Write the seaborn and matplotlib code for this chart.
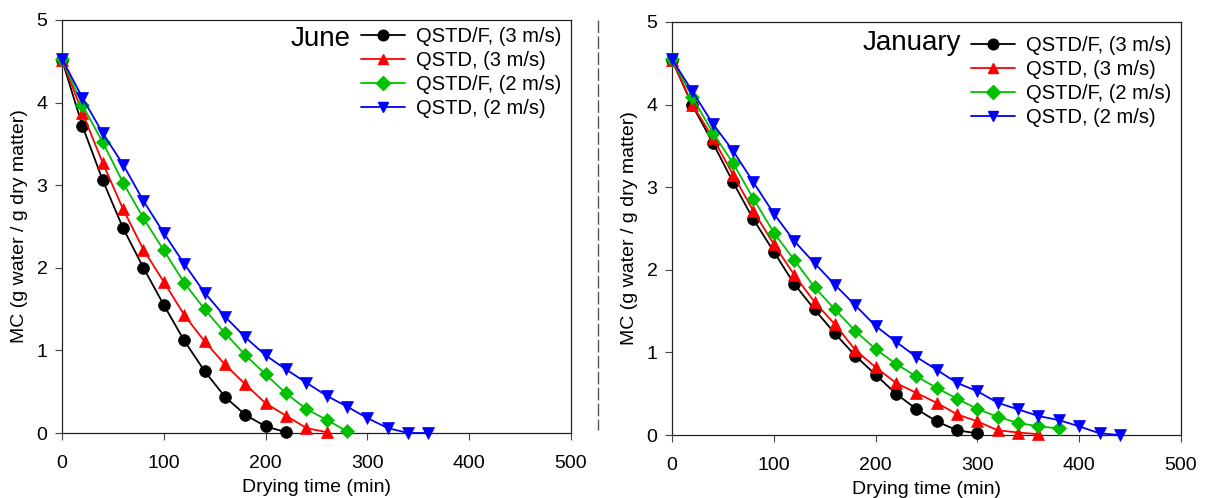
import numpy as np
import pandas as pd
import matplotlib
matplotlib.use("Agg")
import matplotlib.pyplot as plt
import seaborn as sns
from matplotlib.lines import Line2D

# ---- data ----
labels = ["QSTD/F, (3 m/s)", "QSTD, (3 m/s)", "QSTD/F, (2 m/s)", "QSTD, (2 m/s)"]
panel_titles = ["June", "January"]

june_t_qstdf3 = [0, 20, 40, 60, 80, 100, 120, 140, 160, 180, 200, 220]
june_mc_qstdf3 = [4.52, 3.72, 3.06, 2.48, 2.00, 1.55, 1.12, 0.75, 0.44, 0.22, 0.08, 0.01]
june_t_qstd3 = [0, 20, 40, 60, 80, 100, 120, 140, 160, 180, 200, 220, 240, 260]
june_mc_qstd3 = [4.52, 3.88, 3.27, 2.71, 2.22, 1.83, 1.43, 1.11, 0.83, 0.59, 0.36, 0.21, 0.06, 0.01]
june_t_qstdf2 = [0, 20, 40, 60, 80, 100, 120, 140, 160, 180, 200, 220, 240, 260, 280]
june_mc_qstdf2 = [4.53, 3.97, 3.52, 3.03, 2.60, 2.21, 1.82, 1.50, 1.21, 0.945, 0.71, 0.48, 0.29, 0.16, 0.02]
june_t_qstd2 = [0, 20, 40, 60, 80, 100, 120, 140, 160, 180, 200, 220, 240, 260, 280, 300, 320, 340, 360]
june_mc_qstd2 = [4.53, 4.06, 3.63, 3.25, 2.81, 2.42, 2.05, 1.70, 1.41, 1.16, 0.94, 0.77, 0.61, 0.45, 0.32, 0.18, 0.06, 0.0, 0.0]

jan_t_qstdf3 = [0, 20, 40, 60, 80, 100, 120, 140, 160, 180, 200, 220, 240, 260, 280, 300]
jan_mc_qstdf3 = [4.54, 3.99, 3.54, 3.06, 2.61, 2.22, 1.83, 1.52, 1.23, 0.96, 0.73, 0.50, 0.315, 0.165, 0.057, 0.02]
jan_t_qstd3 = [0, 20, 40, 60, 80, 100, 120, 140, 160, 180, 200, 220, 240, 260, 280, 300, 320, 340, 360]
jan_mc_qstd3 = [4.54, 4.00, 3.60, 3.15, 2.71, 2.31, 1.94, 1.61, 1.34, 1.03, 0.82, 0.63, 0.51, 0.39, 0.25, 0.165, 0.057, 0.03, 0.01]
jan_t_qstdf2 = [0, 20, 40, 60, 80, 100, 120, 140, 160, 180, 200, 220, 240, 260, 280, 300, 320, 340, 360, 380]
jan_mc_qstdf2 = [4.55, 4.09, 3.66, 3.29, 2.86, 2.45, 2.12, 1.79, 1.52, 1.26, 1.04, 0.86, 0.71, 0.57, 0.44, 0.315, 0.22, 0.145, 0.105, 0.08]
jan_t_qstd2 = [0, 20, 40, 60, 80, 100, 120, 140, 160, 180, 200, 220, 240, 260, 280, 300, 320, 340, 360, 380, 400, 420, 440]
jan_mc_qstd2 = [4.55, 4.16, 3.77, 3.44, 3.06, 2.68, 2.35, 2.08, 1.82, 1.57, 1.32, 1.13, 0.945, 0.79, 0.63, 0.53, 0.39, 0.31, 0.23, 0.18, 0.105, 0.02, 0.0]

x_ticks = [0, 100, 200, 300, 400, 500]
y_ticks = [0, 1, 2, 3, 4, 5]

# ---- style ----
sns.set_style("ticks")
plt.rcParams["font.family"] = ["Liberation Sans", "DejaVu Sans"]
plt.rcParams["text.color"] = "black"
plt.rcParams["axes.labelcolor"] = "black"
plt.rcParams["xtick.color"] = "black"
plt.rcParams["ytick.color"] = "black"

colors = ["#000000", "#FF0000", "#00C000", "#0000FF"]
markers = ["o", "^", "D", "v"]
msizes = [8.5, 8.5, 7.5, 8.5]

fig = plt.figure(figsize=(12.07, 4.98), dpi=100)
ax1 = fig.add_axes([62 / 1207, 1 - 433 / 498, 509 / 1207, 413 / 498])
ax2 = fig.add_axes([672 / 1207, 1 - 435 / 498, 509 / 1207, 413 / 498])

panels = [
    (ax1, "June", 0.983, 0.955,
     [(june_t_qstdf3, june_mc_qstdf3), (june_t_qstd3, june_mc_qstd3),
      (june_t_qstdf2, june_mc_qstdf2), (june_t_qstd2, june_mc_qstd2)]),
    (ax2, "January", 0.966, 0.950,
     [(jan_t_qstdf3, jan_mc_qstdf3), (jan_t_qstd3, jan_mc_qstd3),
      (jan_t_qstdf2, jan_mc_qstdf2), (jan_t_qstd2, jan_mc_qstd2)]),
]

for ax, title, leg_y, title_y, series in panels:
    for i, (t, mc) in enumerate(series):
        df = pd.DataFrame({"t": t, "mc": mc})
        sns.lineplot(data=df, x="t", y="mc", ax=ax, color=colors[i], marker=markers[i],
                     markersize=msizes[i], markeredgecolor=colors[i], markeredgewidth=0.5,
                     linewidth=1.3, clip_on=False, zorder=3 + i, label=labels[i],
                     estimator=None, sort=False)
    ax.set_xlim(0, 500)
    ax.set_ylim(0, 5)
    ax.set_xticks(x_ticks)
    ax.set_yticks(y_ticks)
    ax.tick_params(direction="out", length=5, width=0.8, labelsize=14, color="#444444",
                   labelcolor="black")
    ax.tick_params(axis="x", pad=11)
    ax.tick_params(axis="y", pad=5.5)
    for s in ax.spines.values():
        s.set_visible(True)
        s.set_linewidth(0.9)
        s.set_color("#222222")
    ax.set_xlabel("Drying time (min)", fontsize=14, labelpad=5)
    ax.set_ylabel("MC (g water / g dry matter)", fontsize=14, labelpad=6)
    handles = [Line2D([], [], color=colors[i], marker=markers[i], markersize=msizes[i] * 0.9,
                      markeredgecolor=colors[i], linewidth=1.3) for i in range(4)]
    leg = ax.legend(handles, labels, loc="upper left", bbox_to_anchor=(0.587, leg_y),
                    frameon=False, fontsize=14.5, borderpad=0, borderaxespad=0,
                    handlelength=2.2, handletextpad=0.55, labelspacing=0.25)
    ax.text(0.567, title_y, title, transform=ax.transAxes, ha="right", va="center",
            fontsize=20)

# dashed separator
fig.add_artist(Line2D([598 / 1207, 598 / 1207], [1 - 20 / 498, 1 - 430 / 498],
                      transform=fig.transFigure, color="#555555", linewidth=1.0,
                      linestyle=(0, (9, 2.5))))

fig.savefig("out.png", dpi=100)
